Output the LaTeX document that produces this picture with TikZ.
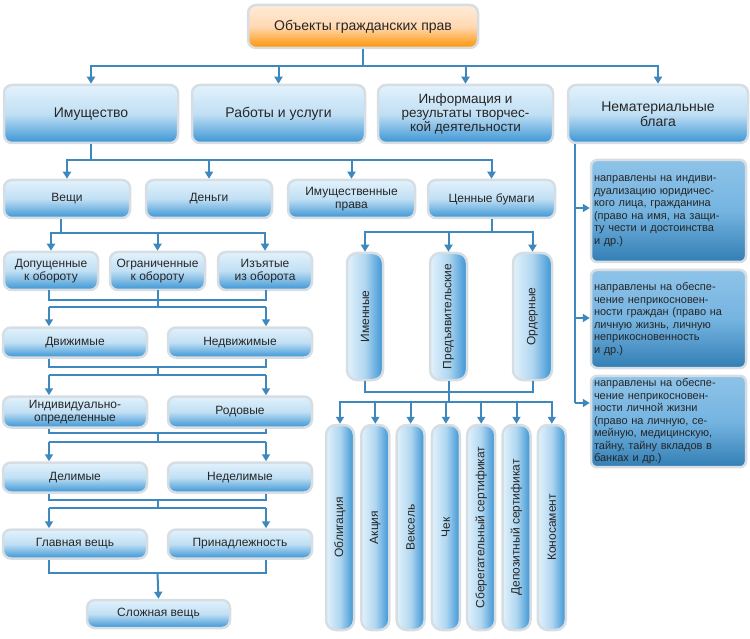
\documentclass[tikz,border=0pt]{standalone}
\usepackage{fontspec}
\setmainfont{Liberation Sans}
\usetikzlibrary{arrows.meta}
\definecolor{linkblue}{RGB}{62,136,190}
\definecolor{boxtop}{RGB}{226,242,252}
\definecolor{boxbot}{RGB}{58,148,212}
\definecolor{rimgray}{RGB}{214,222,228}
\tikzset{
    box/.style={rounded corners=8pt, draw=rimgray, line width=2.5pt, top color=boxtop, bottom color=boxbot, middle color=boxtop!80!boxbot, align=center, inner sep=2pt, font=\fontsize{12}{13}\selectfont, text=black!85},
    bigbox/.style={box, font=\fontsize{14}{15}\selectfont},
    vbox/.style={box, rounded corners=10pt, shading angle=90, left color=boxtop, right color=boxbot, middle color=boxtop!70!boxbot},
    notebox/.style={box, align=left, top color=boxtop!50!boxbot, bottom color=boxbot!85!black, middle color=boxbot!70!white, font=\fontsize{11}{12.5}\selectfont, inner sep=3pt, rounded corners=6pt},
    conn/.style={draw=linkblue, line width=2pt, -{Triangle[width=8pt,length=7pt]}},
    bar/.style={draw=linkblue, line width=2pt}
}
\begin{document}
\begin{tikzpicture}[x=1pt,y=-1pt]
    \useasboundingbox (0,0) rectangle (750,639);

    % top
    \node[bigbox, top color=orange!15, bottom color=orange!85!yellow, middle color=orange!30, minimum width=230, minimum height=43] (root) at (363,26.5) {Объекты гражданских прав};

    % first level
    \node[bigbox, minimum width=174, minimum height=58] (imu) at (91,114) {Имущество};
    \node[bigbox, minimum width=173, minimum height=58] (rab) at (278.5,114) {Работы и услуги};
    \node[bigbox, minimum width=175, minimum height=58, font=\fontsize{13.5}{14}\selectfont] (inf) at (465.5,114) {Информация и\\результаты творчес-\\кой деятельности};
    \node[bigbox, minimum width=180, minimum height=58] (nem) at (658,114) {Нематериальные\\блага};
    \foreach \t in {imu,rab,inf,nem}
        \draw[conn] (root.south |- 0,66) -| (\t.north);
    \draw[bar] (root.south) -- (root.south |- 0,66);

    % property
    \node[box, minimum width=126, minimum height=38] (veshi) at (67,199) {Вещи};
    \node[box, minimum width=126, minimum height=38] (dengi) at (209,199) {Деньги};
    \node[box, minimum width=127, minimum height=38] (prava) at (351.5,199) {Имущественные\\права};
    \node[box, minimum width=127, minimum height=38] (cenbum) at (491.5,199) {Ценные бумаги};
    \draw[bar] (imu.south) -- (imu.south |- 0,160);
    \foreach \t in {veshi,dengi,prava,cenbum}
        \draw[conn] (imu.south |- 0,160) -| (\t.north);

    % things
    \node[box, minimum width=94, minimum height=38] (dop) at (51,271) {Допущенные\\к обороту};
    \node[box, minimum width=95, minimum height=38] (ogr) at (157.5,271) {Ограниченные\\к обороту};
    \node[box, minimum width=94, minimum height=38] (izy) at (265,271) {Изъятые\\из оборота};
    \draw[bar] (veshi.south -| 61,0) -- (61,233);
    \foreach \t in {dop,ogr,izy}
        \draw[conn] (61,233) -| (\t.north);

    \node[box, minimum width=144, minimum height=30] (dvi) at (75,342.5) {Движимые};
    \node[box, minimum width=144, minimum height=30] (nedvi) at (240,342.5) {Недвижимые};
    \node[box, minimum width=144, minimum height=31] (ind) at (75,412) {Индивидуально-\\определенные};
    \node[box, minimum width=144, minimum height=31] (rod) at (240,412) {Родовые};
    \node[box, minimum width=144, minimum height=30] (del) at (75,477.5) {Делимые};
    \node[box, minimum width=144, minimum height=30] (nedel) at (240,477.5) {Неделимые};
    \node[box, minimum width=144, minimum height=29] (glav) at (75,544) {Главная вещь};
    \node[box, minimum width=144, minimum height=29] (prin) at (240,544) {Принадлежность};
    \node[box, minimum width=143, minimum height=28] (slozh) at (158.5,614) {Сложная вещь};

    % brackets between the pairs
    \draw[bar] (49,290) -- (49,300) -- (266,300) -- (266,290) (157.5,290) -- (157.5,307);
    \draw[bar] (49,307) -- (266,307);
    \draw[conn] (49,307) -- (dvi.north -| 49,0);
    \draw[conn] (266,307) -- (nedvi.north -| 266,0);
    \foreach \a/\b/\c/\d/\yt/\yb in {dvi/nedvi/ind/rod/367/375, ind/rod/del/nedel/433/442, del/nedel/glav/prin/500/508}{
        \draw[bar] (\a.south -| 49,0) -- (49,\yt) -- (266,\yt) -- (\b.south -| 266,0) (157.5,\yt) -- (157.5,\yb);
        \draw[bar] (49,\yb) -- (266,\yb);
        \draw[conn] (49,\yb) -- (\c.north -| 49,0);
        \draw[conn] (266,\yb) -- (\d.north -| 266,0);
    }
    \draw[bar] (glav.south -| 49,0) -- (49,573) -- (266,573) -- (prin.south -| 266,0);
    \draw[conn] (157.5,573) -- (slozh.north);

    % securities
    \node[vbox, minimum width=127, minimum height=36, rotate=90] (imen) at (365,316.5) {Именные};
    \node[vbox, minimum width=127, minimum height=37, rotate=90] (pred) at (448.5,316.5) {Предъявительские};
    \node[vbox, minimum width=127, minimum height=39, rotate=90] (orde) at (532.5,316.5) {Ордерные};
    \draw[bar] (cenbum.south) -- (cenbum.south |- 0,232);
    \foreach \t in {imen,pred,orde}
        \draw[conn] (cenbum.south |- 0,232) -| (\t.east);
    \draw[bar] (imen.west) -- (imen.west |- 0,392) -| (orde.west) (pred.west) -- (pred.west |- 0,402);
    \foreach \n/\t [count=\i from 0] in {obl/Облигация, akc/Акция, veks/Вексель, chek/Чек, sber/Сберегательный сертификат, depo/Депозитный сертификат, kono/Коносамент}{
        \node[vbox, minimum width=205, minimum height=28, rotate=90, anchor=center] (\n) at (340+35.3*\i,527.5) {\t};
        \draw[conn] (pred.west |- 0,402) -| (\n.east);
    }

    % non-material
    \node[notebox, text width=149, minimum height=102] (nb1) at (668.5,211) {направлены на индиви-\\дуализацию юридичес-\\кого лица, гражданина\\(право на имя, на защи-\\ту чести и достоинства\\и др.)};
    \node[notebox, text width=149, minimum height=98] (nb2) at (668.5,319) {направлены на обеспе-\\чение неприкосновен-\\ности граждан (право на\\личную жизнь, личную\\неприкосновенность\\и др.)};
    \node[notebox, text width=149, minimum height=87] (nb3) at (668.5,421.5) {направлены на обеспе-\\чение неприкосновен-\\ности личной жизни\\(право на личную, се-\\мейную, медицинскую,\\тайну, тайну вкладов в\\банках и др.)};
    \draw[bar] (nem.south -| 575,0) -- (575,403);
    \draw[conn] (575,208) -- (nb1.west |- 0,208);
    \draw[conn] (575,318) -- (nb2.west |- 0,318);
    \draw[conn] (575,403) -- (nb3.west |- 0,403);
\end{tikzpicture}
\end{document}
